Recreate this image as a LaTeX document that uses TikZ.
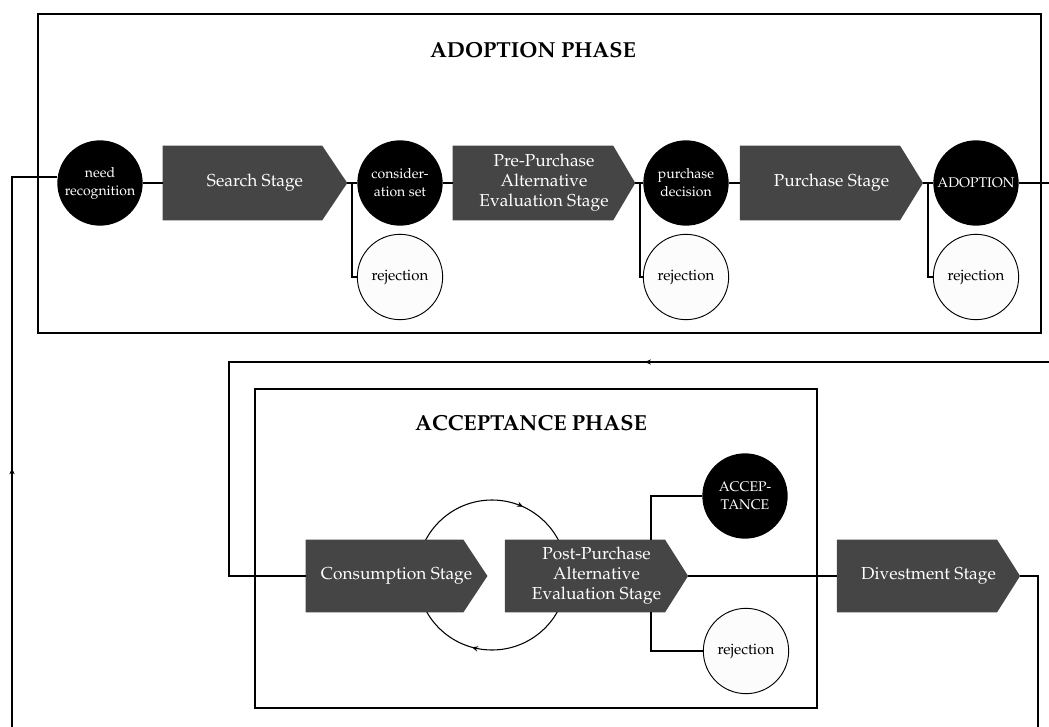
\documentclass[tikz,border=0pt]{standalone}
\usepackage[T1]{fontenc}
\usepackage{mathpazo}
\usetikzlibrary{arrows.meta,decorations.markings}
\pgfdeclarelayer{background}
\pgfsetlayers{background,main}
\definecolor{stagegray}{HTML}{454545}
\definecolor{rejfill}{HTML}{FCFCFC}
\tikzset{
 stagebox/.style={rectangle, inner sep=0pt, minimum height=55.5pt, text=white, align=center, font=\fontsize{13}{15}\selectfont},
 blackdot/.style={circle, fill=black, minimum size=64pt, inner sep=0pt, text=white, align=center, font=\fontsize{10.5}{13.5}\selectfont},
 rejdot/.style={circle, draw=black, line width=0.7pt, fill=rejfill, minimum size=64pt, inner sep=0pt, align=center, font=\fontsize{11.3}{13}\selectfont},
 phasebox/.style={draw=black, line width=2.2pt},
 conn/.style={draw=black, line width=0.8pt},
 midarrow/.style={postaction={decorate, decoration={markings, mark=at position #1 with {\arrow{Stealth[length=4.5pt,width=4pt]}}}}},
 phasetitle/.style={font=\fontsize{16.3}{18}\selectfont\bfseries}
}
\newcommand{\stagefill}[2]{%
 \fill[stagegray] (#1.north west) -- ([xshift=-#2]#1.north east) -- (#1.east) -- ([xshift=-#2]#1.south east) -- (#1.south west) -- cycle;}
\begin{document}
\begin{tikzpicture}[x=0.75pt,y=-0.75pt]
\useasboundingbox (0,0) rectangle (1049,727);
% phase boxes
\draw[phasebox] (38,14) rectangle (1041,333);
\draw[phasebox] (255,389) rectangle (817,708);
\node[phasetitle] (t1) at (533,50) {ADOPTION PHASE};
\node[phasetitle] (t2) at (531,423) {ACCEPTANCE PHASE};
% adoption row
\node[blackdot] (need) at (100,183) {need\\recognition};
\node[stagebox, minimum width=138pt] (search) at (255,183) {Search Stage};
\node[blackdot] (consid) at (400,183) {consider-\\ation set};
\node[rejdot] (rej1) at (400,277) {rejection};
\node[stagebox, minimum width=136.5pt] (pre) at (544,183) {Pre-Purchase\\Alternative\\Evaluation Stage};
\node[blackdot] (dec) at (686,183) {purchase\\decision};
\node[rejdot] (rej2) at (686,277) {rejection};
\node[stagebox, minimum width=137pt] (purch) at (831.5,183) {Purchase Stage};
\node[blackdot] (adopt) at (976,183) {ADOPTION};
\node[rejdot] (rej3) at (976,277) {rejection};
% acceptance row
\node[stagebox, minimum width=136pt, minimum height=54pt] (consum) at (396.5,576) {Consumption Stage};
\node[stagebox, minimum width=137pt, minimum height=54pt] (post) at (596.5,576) {Post-Purchase\\Alternative\\Evaluation Stage};
\node[blackdot] (accep) at (745,496) {ACCEP-\\TANCE};
\node[rejdot] (rej4) at (746,651) {rejection};
\node[stagebox, minimum width=137pt, minimum height=54pt] (divest) at (928.5,576) {Divestment Stage};
% coordinates
\coordinate (fbL) at (12,727);
\coordinate (outR) at (1049,183);
\coordinate (inR) at (1049,362);
\coordinate (retC) at (229,362);
\coordinate (fbR) at (1038,727);
\coordinate (cyc) at (492,575);
\coordinate (b1) at (352,183);
\coordinate (b2) at (640,183);
\coordinate (b3) at (928,183);
\coordinate (b4) at (651,576);
% connectors
\draw[conn, midarrow=194pt] (fbL) |- (need.172);
\draw[conn] (need.east) -- (search.west);
\draw[conn] (search.east) -- (consid.west);
\draw[conn] (b1) |- (rej1.west);
\draw[conn] (consid.east) -- (pre.west);
\draw[conn] (pre.east) -- (dec.west);
\draw[conn] (b2) |- (rej2.west);
\draw[conn] (dec.east) -- (purch.west);
\draw[conn] (purch.east) -- (adopt.west);
\draw[conn] (b3) |- (rej3.west);
\draw[conn] (adopt.east) -- (outR);
\draw[conn, midarrow=303pt] (inR) -- (retC) |- (consum.west);
\draw[conn] (b4 |- post.north) |- (accep.west);
\draw[conn] (b4 |- post.south) |- (rej4.west);
\draw[conn] (post.east) -- (divest.west);
\draw[conn] (divest.east) -| (fbR);
\begin{pgfonlayer}{background}
\draw[conn, midarrow=0.318, midarrow=0.793] ([xshift=-56.25pt]cyc) arc[start angle=180, end angle=-180, radius=56.25pt];
\stagefill{search}{18.75pt}
\stagefill{pre}{16.5pt}
\stagefill{purch}{17.25pt}
\stagefill{consum}{18pt}
\stagefill{post}{17.25pt}
\stagefill{divest}{17.25pt}
\end{pgfonlayer}
\end{tikzpicture}
\end{document}
